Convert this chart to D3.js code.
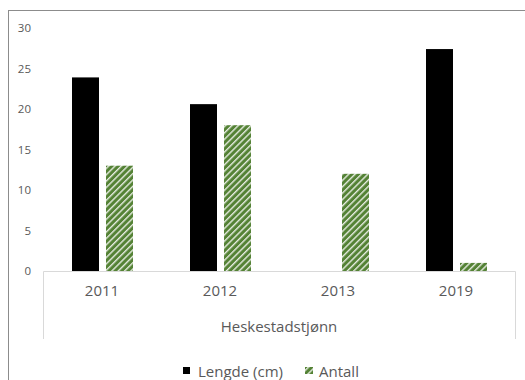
<!DOCTYPE html>
<html>
<head>
<meta charset="utf-8">
<script src="https://cdn.jsdelivr.net/npm/d3@7/dist/d3.min.js"></script>
<style>
  html, body { margin: 0; padding: 0; background: #fff; }
  svg { display: block; }
  text { font-family: "Open Sans", "Liberation Sans", sans-serif; fill: #595959; }
</style>
</head>
<body>
<svg id="chart" width="525" height="380"></svg>
<script>
// Chart data
const years = ["2011", "2012", "2013", "2019"];
const lengde = [23.9, 20.6, null, 27.4];   // Lengde (cm)
const antall = [13, 18, 12, 1];            // Antall
const yTicks = [0, 5, 10, 15, 20, 25, 30];
const groupTitle = "Heskestadstjønn";
const seriesNames = ["Lengde (cm)", "Antall"];

const svg = d3.select("#chart");

// Upward-diagonal hatched fill for the "Antall" series
const defs = svg.append("defs");
const pat = defs.append("pattern")
  .attr("id", "hatch")
  .attr("patternUnits", "userSpaceOnUse")
  .attr("width", 4.5).attr("height", 4.5)
  .attr("patternTransform", "rotate(-45)");
pat.append("rect").attr("width", 4.5).attr("height", 4.5).attr("fill", "#548235");
pat.append("rect").attr("x", 0).attr("y", 0).attr("width", 4.5).attr("height", 1.4).attr("fill", "#ffffff").attr("opacity", 0.85);

// Outer chart frame
svg.append("rect")
  .attr("x", 8.5).attr("y", 10.5)
  .attr("width", 540).attr("height", 400)
  .attr("fill", "none").attr("stroke", "#8c8c8c").attr("stroke-width", 1);

const plot = { left: 43, right: 515, top: 28, bottom: 271 };

const x = d3.scaleBand().domain(years).range([plot.left, plot.right]);
const y = d3.scaleLinear().domain([0, 30]).range([plot.bottom, plot.top]);

// Y axis labels (no line, no ticks)
const yAxis = d3.axisLeft(y).tickValues(yTicks).tickSize(0).tickPadding(0);
const yg = svg.append("g").attr("transform", "translate(31,0)").call(yAxis);
yg.select(".domain").remove();
yg.selectAll("text")
  .style("font-size", "11.5px")
  .attr("fill", "#595959");

// Bars
const barW = 27;
const g = svg.append("g");
g.selectAll("rect.lengde")
  .data(years.map((c, i) => ({ c, v: lengde[i] })).filter(d => d.v != null))
  .join("rect")
  .attr("class", "lengde")
  .attr("x", d => x(d.c) + x.bandwidth() / 2 - 30)
  .attr("y", d => y(d.v))
  .attr("width", barW)
  .attr("height", d => y(0) - y(d.v))
  .attr("fill", "#000");

g.selectAll("rect.antall")
  .data(years.map((c, i) => ({ c, v: antall[i] })))
  .join("rect")
  .attr("class", "antall")
  .attr("x", d => x(d.c) + x.bandwidth() / 2 + 4)
  .attr("y", d => y(d.v))
  .attr("width", barW)
  .attr("height", d => y(0) - y(d.v))
  .attr("fill", "url(#hatch)");

// Category axis with grouping box
const xAxis = d3.axisBottom(x).tickSize(0).tickPadding(14);
const xg = svg.append("g").attr("transform", `translate(0,${plot.bottom})`).call(xAxis);
xg.select(".domain").remove();
xg.selectAll("text").style("font-size", "15px").attr("fill", "#595959");

const lineColor = "#d9d9d9";
svg.append("path")
  .attr("d", `M${plot.left + 0.5},339 V${plot.bottom + 0.5} H${plot.right + 0.5} V339`)
  .attr("fill", "none").attr("stroke", lineColor).attr("stroke-width", 1);

svg.append("text")
  .attr("x", (plot.left + plot.right) / 2)
  .attr("y", 332)
  .attr("text-anchor", "middle")
  .style("font-size", "15px")
  .text(groupTitle);

// Legend
const legend = svg.append("g");
legend.append("rect").attr("x", 183).attr("y", 367).attr("width", 7).attr("height", 7).attr("fill", "#000");
legend.append("text").attr("x", 198).attr("y", 376.5).style("font-size", "15px").text(seriesNames[0]);
legend.append("rect").attr("x", 305).attr("y", 367).attr("width", 8).attr("height", 7).attr("fill", "url(#hatch)");
legend.append("text").attr("x", 319).attr("y", 376.5).style("font-size", "15px").text(seriesNames[1]);
</script>
</body>
</html>
